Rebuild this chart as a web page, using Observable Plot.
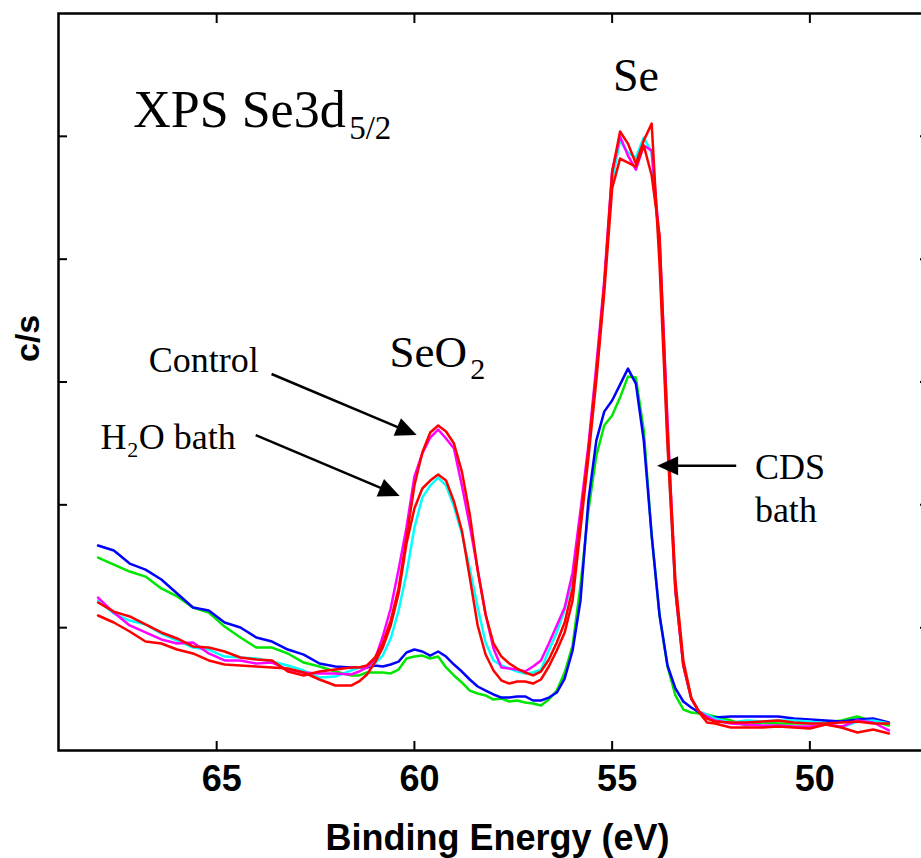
<!DOCTYPE html>
<html>
<head>
<meta charset="utf-8">
<script src="https://cdn.jsdelivr.net/npm/d3@7"></script>
<script src="https://cdn.jsdelivr.net/npm/@observablehq/plot@0.6"></script>
<style>
  html, body { margin: 0; padding: 0; background: #fff; }
  #chart { width: 921px; height: 858px; overflow: hidden; }
</style>
</head>
<body>
<div id="chart"></div>
<script>
// Binding energy grid (eV)
const energy = [68.0,67.6,67.2,66.8,66.4,66.0,65.6,65.2,64.8,64.4,64.0,63.6,63.2,62.8,62.4,62.0,61.6,
  61.4,61.2,61.0,60.8,60.6,60.4,60.2,60.0,59.8,59.6,59.4,59.2,59.0,58.8,58.6,58.4,58.2,58.0,57.8,57.6,57.4,57.2,57.0,
  56.8,56.6,56.4,56.2,56.0,55.8,55.6,55.4,55.2,55.0,54.8,54.6,54.4,54.2,54.0,53.8,53.6,53.4,53.2,53.0,52.8,52.6,52.4,
  52.0,51.6,51.2,50.8,50.4,50.0,49.6,49.2,48.8,48.4,48.0];

// Intensities (c/s), one array per spectrum
const cdsBlue = [1669,1628,1522,1473,1392,1278,1164,1140,1042,1001,920,887,822,781,708,684,676,
  676,676,692,684,700,724,798,822,806,773,806,765,700,643,578,521,488,456,431,431,440,440,407,
  407,431,472,586,814,1221,2035,2523,2759,2849,2979,3109,2987,2523,1750,1099,692,505,399,350,309,277,269,
  277,277,277,277,260,252,244,236,252,260,228];
const cdsGreen = [1571,1514,1457,1416,1319,1254,1164,1123,1009,920,838,838,790,716,684,643,611,
  611,635,635,635,627,659,749,765,773,749,765,676,611,554,488,464,448,415,423,399,407,391,383,
  366,415,488,635,855,1343,1954,2401,2646,2727,2873,3044,3036,2605,1750,1099,684,448,334,309,301,293,277,
  244,204,228,220,220,220,228,244,277,236,204];
const h2oCyan = [1221,1115,1058,1026,952,895,838,822,765,757,749,724,692,651,594,602,651,
  676,684,708,773,912,1140,1441,1815,2059,2157,2222,2157,1986,1766,1481,1164,879,733,692,667,643,627,635,
  659,814,961,1148,1400,1912,2442,3093,3785,4640,4965,4868,4827,4990,4868,4070,2523,1302,692,423,317,293,260,
  228,244,236,244,244,236,220,187,236,244,220];
const controlMagenta = [1245,1123,1018,961,904,871,879,790,733,733,708,716,659,635,627,627,619,
  643,676,740,928,1156,1473,1815,2230,2418,2548,2613,2540,2458,2157,1832,1473,1107,830,676,667,659,643,684,
  733,871,1018,1164,1449,1954,2483,3134,3826,4721,4998,4843,4729,4925,4884,4151,2686,1302,692,423,317,277,244,
  220,212,204,204,195,195,212,195,244,228,163];
const h2oRed = [1099,1042,969,887,871,822,790,733,700,692,684,676,667,635,578,529,529,
  562,619,716,838,1018,1278,1685,1970,2133,2198,2247,2198,2027,1791,1408,1018,781,651,570,545,562,562,545,
  578,684,814,961,1221,1807,2385,3012,3728,4575,4819,4786,4754,4925,4681,4192,2605,1384,733,431,309,228,220,
  187,187,187,195,187,179,212,187,147,171,138];
const controlRed = [1205,1131,1091,1026,961,912,847,838,806,757,741,733,643,611,643,659,676,
  676,692,757,871,1058,1319,1734,2157,2426,2589,2646,2597,2499,2271,1921,1465,1107,871,765,708,667,635,611,
  643,741,879,1042,1319,1872,2442,3069,3785,4705,5039,4941,4778,4965,5104,3948,2483,1302,692,423,317,260,236,
  228,228,236,244,228,220,220,228,236,220,220];

const seriesKeys = ["CDS bath (blue)", "CDS bath (green)", "H2O bath (cyan)", "Control (magenta)", "H2O bath (red)", "Control (red)"];
const seriesValues = [cdsBlue, cdsGreen, h2oCyan, controlMagenta, h2oRed, controlRed];
const seriesColors = ["#0000ff", "#00e600", "#00ffff", "#ff00ff", "#ff0000", "#ff0000"];
const drawOrder = [1, 0, 2, 3, 4, 5];

const xTicks = [65, 60, 55, 50];
const yTicks = [1000, 2000, 3000, 4000, 5000];

// Annotations (data coordinates)
const labelText = ["XPS Se3d", "5/2", "Se", "SeO", "2", "Control", "H", "2", "O bath", "CDS", "bath"];
const labelX    = [67.11, 61.65, 54.98, 60.63, 58.59, 66.72, 67.94, 67.26, 66.97, 51.39, 51.39];
const labelY    = [5074, 4982, 5367, 3120, 3026, 3079, 2456, 2393, 2456, 2212, 1858];
const labelSize = [52, 33, 46, 45, 30, 36, 36, 22, 36, 36, 36];

const arrowFromX = [63.60, 64.00, 51.85];
const arrowFromY = [3061, 2564, 2314];
const arrowToX   = [59.93, 60.36, 53.85];
const arrowToY   = [2564, 2068, 2314];

const rows = [];
for (const s of drawOrder) {
  energy.forEach((e, i) => rows.push({energy: e, cps: seriesValues[s][i], series: seriesKeys[s]}));
}
const labels = labelText.map((t, i) => ({text: t, x: labelX[i], y: labelY[i], size: labelSize[i]}));
const arrows = arrowFromX.map((_, i) => ({x1: arrowFromX[i], y1: arrowFromY[i], x2: arrowToX[i], y2: arrowToY[i]}));

function arrowMark(index, scales) {
  const g = d3.create("svg:g");
  for (const a of arrows) {
    const x1 = scales.x(a.x1), y1 = scales.y(a.y1), x2 = scales.x(a.x2), y2 = scales.y(a.y2);
    const ang = Math.atan2(y2 - y1, x2 - x1);
    const L = 21, W = 9.5;
    const bx = x2 - L * Math.cos(ang), by = y2 - L * Math.sin(ang);
    const px = -Math.sin(ang) * W, py = Math.cos(ang) * W;
    g.append("line").attr("x1", x1).attr("y1", y1).attr("x2", bx + Math.cos(ang)).attr("y2", by + Math.sin(ang))
      .attr("stroke", "black").attr("stroke-width", 2.5);
    g.append("path").attr("d", `M${x2},${y2}L${bx + px},${by + py}L${bx - px},${by - py}Z`).attr("fill", "black");
  }
  return g.node();
}

const plot = Plot.plot({
  width: 921,
  height: 858,
  marginTop: 13,
  marginBottom: 108,
  marginLeft: 58,
  marginRight: -7,
  style: {fontFamily: "Liberation Sans, Arial, sans-serif", background: "white", overflow: "hidden"},
  x: {domain: [69, 47]},
  y: {domain: [0, 6000]},
  color: {domain: seriesKeys, range: seriesColors},
  marks: [
    Plot.line(rows, {x: "energy", y: "cps", z: "series", stroke: "series", strokeWidth: 2.5}),
    Plot.frame({stroke: "black", strokeWidth: 2.5}),
    Plot.axisX({anchor: "bottom", ticks: xTicks, tickSize: -9, tickFormat: () => "", strokeWidth: 2}),
    Plot.axisX({anchor: "top", ticks: xTicks, tickSize: -9, tickFormat: () => "", strokeWidth: 2}),
    Plot.axisY({anchor: "left", ticks: yTicks, tickSize: -9, tickFormat: () => "", strokeWidth: 2}),
    Plot.axisY({anchor: "right", ticks: yTicks, tickSize: -9, tickFormat: () => "", strokeWidth: 2}),
    Plot.text(xTicks, {x: d => d, frameAnchor: "bottom", dx: 5, dy: 40, text: d => String(d), fontSize: 36, fontWeight: "bold", fill: "black"}),
    Plot.text(["Binding Energy (eV)"], {frameAnchor: "bottom", dx: 4, dy: 99, text: d => d, fontSize: 36, fontWeight: "bold", fill: "black"}),
    Plot.text(["c/s"], {frameAnchor: "left", dx: -30, dy: -20, rotate: -90, text: d => d, fontSize: 34, fontWeight: "bold", fill: "black"}),
    ...labels.map(l => Plot.text([l], {x: "x", y: "y", text: "text", fontSize: l.size, textAnchor: "start", lineAnchor: "bottom",
      fontFamily: "Liberation Serif, Times New Roman, serif", fill: "black"})),
    arrowMark
  ]
});
document.getElementById("chart").appendChild(plot);
</script>
</body>
</html>
